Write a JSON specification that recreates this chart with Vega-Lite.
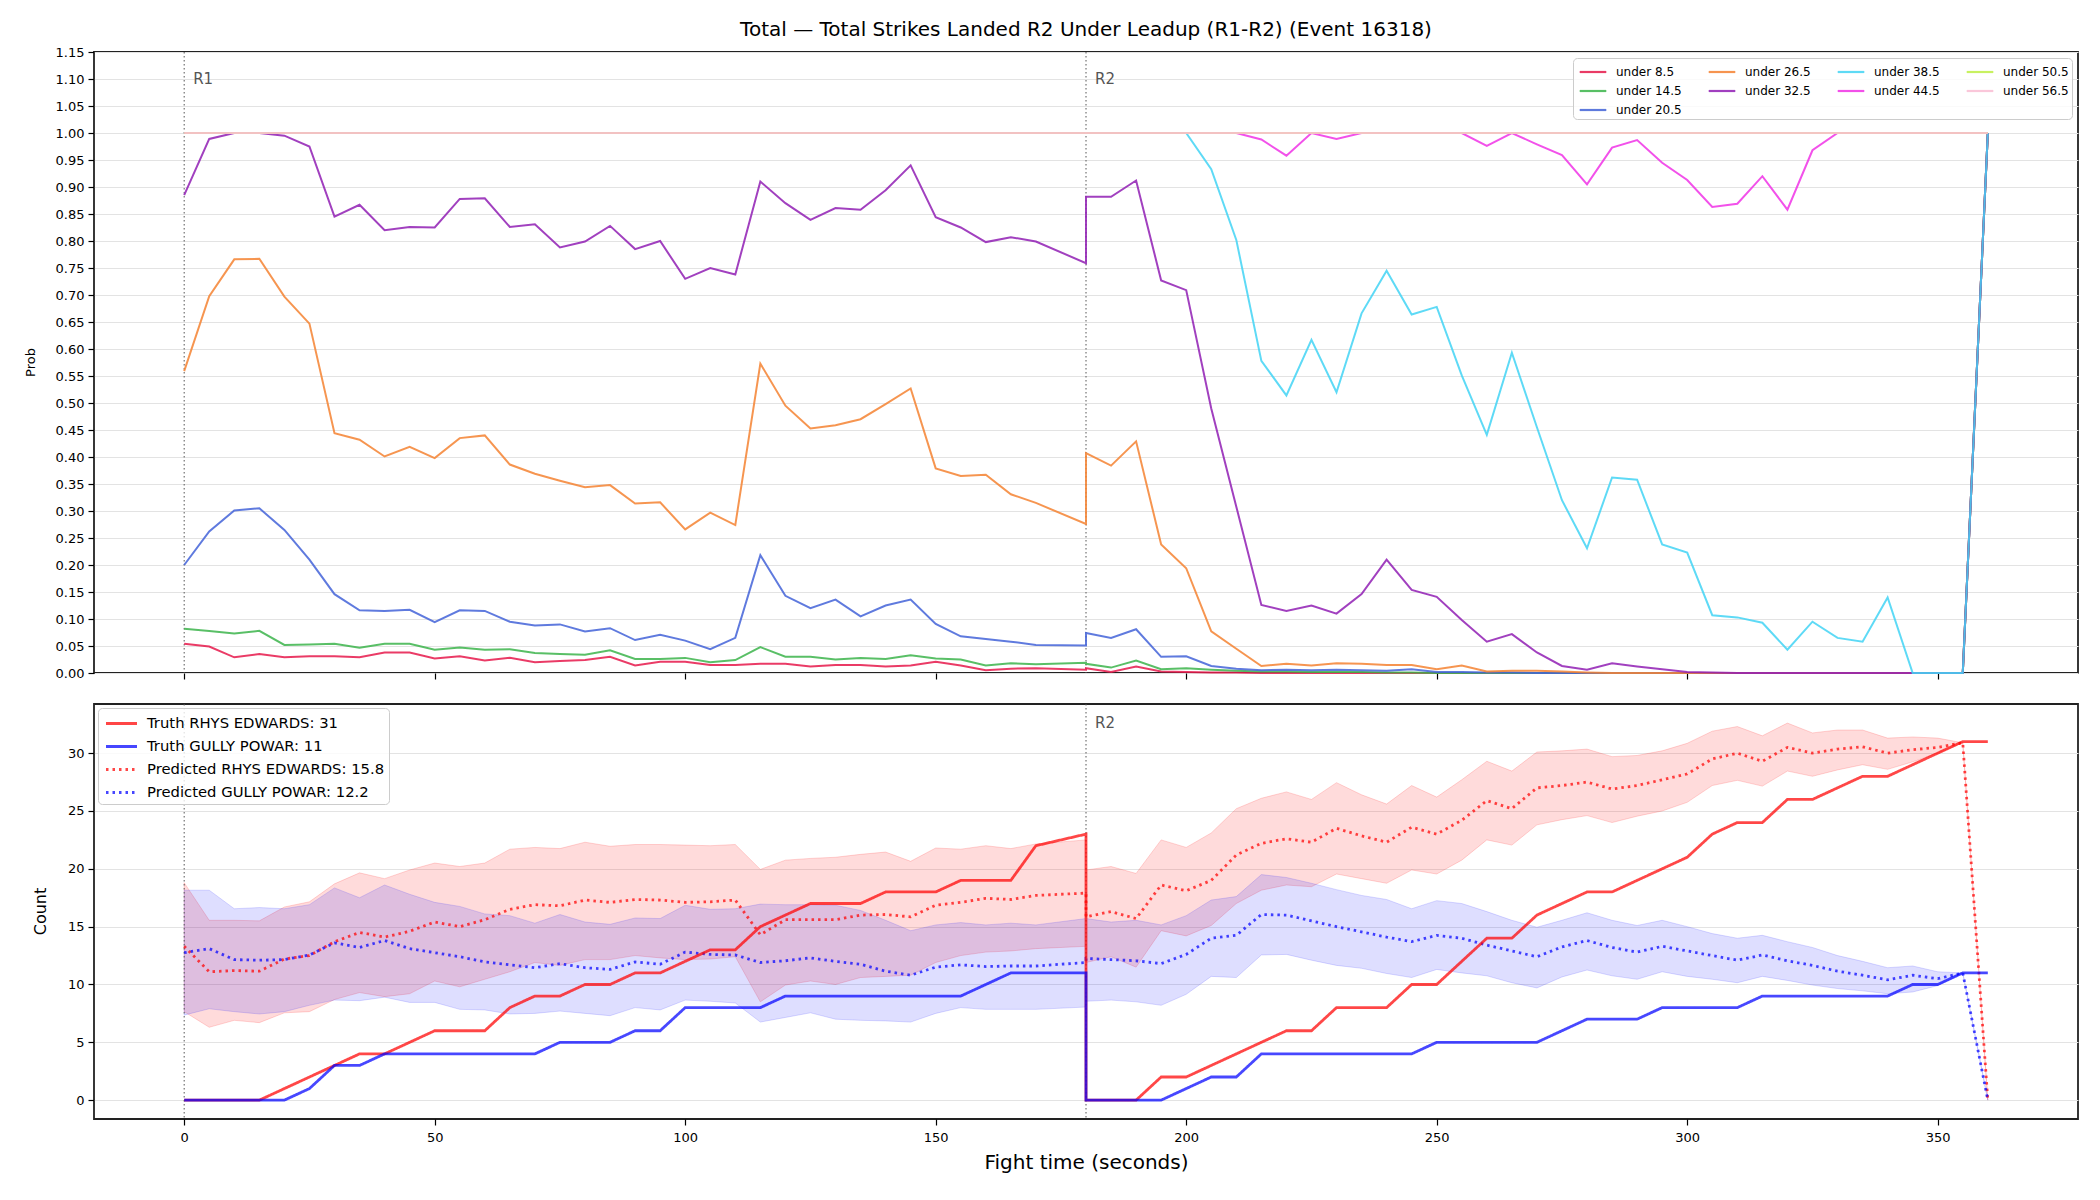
{
  "$schema": "https://vega.github.io/schema/vega-lite/v6.json",
  "background": "white",
  "padding": {"left": 23, "top": 19, "right": 20, "bottom": 10},
  "spacing": 21,
  "config": {
    "font": "DejaVu Sans",
    "view": {"stroke": "#222222", "strokeWidth": 1.8},
    "axis": {
      "labelFont": "DejaVu Sans",
      "labelFontSize": 13,
      "labelColor": "#000000",
      "labelFlush": false,
      "labelOverlap": false,
      "labelPadding": 4,
      "tickColor": "#000000",
      "tickSize": 6,
      "tickWidth": 1.2,
      "domain": false,
      "titleFont": "DejaVu Sans",
      "titleFontWeight": "normal",
      "titleColor": "#000000",
      "gridColor": "#e3e3e3",
      "gridWidth": 1
    },
    "legend": {"labelFont": "DejaVu Sans", "labelColor": "#000000", "labelLimit": 400}
  },
  "resolve": {
    "scale": {"color": "independent", "strokeDash": "independent", "opacity": "independent", "strokeWidth": "independent", "y": "independent"}
  },
  "datasets": {
    "rounds": [{"t": 0, "r": "R1"}, {"t": 180, "r": "R2"}],
    "probNames": [
      {"key": "a", "label": "under 8.5"},
      {"key": "b", "label": "under 14.5"},
      {"key": "c", "label": "under 20.5"},
      {"key": "d", "label": "under 26.5"},
      {"key": "e", "label": "under 32.5"},
      {"key": "f", "label": "under 38.5"},
      {"key": "g", "label": "under 44.5"},
      {"key": "h", "label": "under 50.5"},
      {"key": "i", "label": "under 56.5"}
    ],
    "countNames": [
      {"key": "tr", "label": "Truth RHYS EDWARDS: 31"},
      {"key": "tg", "label": "Truth GULLY POWAR: 11"},
      {"key": "pr", "label": "Predicted RHYS EDWARDS: 15.8"},
      {"key": "pg", "label": "Predicted GULLY POWAR: 12.2"}
    ],
    "probs": [
      {"t": 0, "n": 0, "a": 0.054, "b": 0.082, "c": 0.2, "d": 0.559, "e": 0.885, "f": 1, "g": 1, "h": 1, "i": 1},
      {"t": 5, "n": 1, "a": 0.049, "b": 0.078, "c": 0.262, "d": 0.698, "e": 0.989, "f": 1, "g": 1, "h": 1, "i": 1},
      {"t": 10, "n": 2, "a": 0.029, "b": 0.073, "c": 0.301, "d": 0.766, "e": 1, "f": 1, "g": 1, "h": 1, "i": 1},
      {"t": 15, "n": 3, "a": 0.035, "b": 0.078, "c": 0.305, "d": 0.767, "e": 1, "f": 1, "g": 1, "h": 1, "i": 1},
      {"t": 20, "n": 4, "a": 0.029, "b": 0.052, "c": 0.265, "d": 0.697, "e": 0.995, "f": 1, "g": 1, "h": 1, "i": 1},
      {"t": 25, "n": 5, "a": 0.031, "b": 0.053, "c": 0.21, "d": 0.647, "e": 0.975, "f": 1, "g": 1, "h": 1, "i": 1},
      {"t": 30, "n": 6, "a": 0.031, "b": 0.054, "c": 0.146, "d": 0.444, "e": 0.845, "f": 1, "g": 1, "h": 1, "i": 1},
      {"t": 35, "n": 7, "a": 0.029, "b": 0.047, "c": 0.116, "d": 0.432, "e": 0.867, "f": 1, "g": 1, "h": 1, "i": 1},
      {"t": 40, "n": 8, "a": 0.038, "b": 0.054, "c": 0.115, "d": 0.401, "e": 0.82, "f": 1, "g": 1, "h": 1, "i": 1},
      {"t": 45, "n": 9, "a": 0.038, "b": 0.054, "c": 0.117, "d": 0.419, "e": 0.826, "f": 1, "g": 1, "h": 1, "i": 1},
      {"t": 50, "n": 10, "a": 0.027, "b": 0.043, "c": 0.094, "d": 0.398, "e": 0.825, "f": 1, "g": 1, "h": 1, "i": 1},
      {"t": 55, "n": 11, "a": 0.031, "b": 0.047, "c": 0.116, "d": 0.435, "e": 0.878, "f": 1, "g": 1, "h": 1, "i": 1},
      {"t": 60, "n": 12, "a": 0.023, "b": 0.043, "c": 0.115, "d": 0.44, "e": 0.879, "f": 1, "g": 1, "h": 1, "i": 1},
      {"t": 65, "n": 13, "a": 0.028, "b": 0.044, "c": 0.095, "d": 0.386, "e": 0.826, "f": 1, "g": 1, "h": 1, "i": 1},
      {"t": 70, "n": 14, "a": 0.02, "b": 0.037, "c": 0.088, "d": 0.369, "e": 0.831, "f": 1, "g": 1, "h": 1, "i": 1},
      {"t": 75, "n": 15, "a": 0.022, "b": 0.035, "c": 0.09, "d": 0.356, "e": 0.788, "f": 1, "g": 1, "h": 1, "i": 1},
      {"t": 80, "n": 16, "a": 0.024, "b": 0.034, "c": 0.077, "d": 0.344, "e": 0.799, "f": 1, "g": 1, "h": 1, "i": 1},
      {"t": 85, "n": 17, "a": 0.03, "b": 0.042, "c": 0.083, "d": 0.348, "e": 0.828, "f": 1, "g": 1, "h": 1, "i": 1},
      {"t": 90, "n": 18, "a": 0.014, "b": 0.026, "c": 0.061, "d": 0.314, "e": 0.785, "f": 1, "g": 1, "h": 1, "i": 1},
      {"t": 95, "n": 19, "a": 0.021, "b": 0.026, "c": 0.071, "d": 0.316, "e": 0.8, "f": 1, "g": 1, "h": 1, "i": 1},
      {"t": 100, "n": 20, "a": 0.021, "b": 0.028, "c": 0.06, "d": 0.266, "e": 0.73, "f": 1, "g": 1, "h": 1, "i": 1},
      {"t": 105, "n": 21, "a": 0.015, "b": 0.02, "c": 0.044, "d": 0.297, "e": 0.75, "f": 1, "g": 1, "h": 1, "i": 1},
      {"t": 110, "n": 22, "a": 0.015, "b": 0.024, "c": 0.065, "d": 0.274, "e": 0.738, "f": 1, "g": 1, "h": 1, "i": 1},
      {"t": 115, "n": 23, "a": 0.017, "b": 0.048, "c": 0.218, "d": 0.573, "e": 0.91, "f": 1, "g": 1, "h": 1, "i": 1},
      {"t": 120, "n": 24, "a": 0.017, "b": 0.03, "c": 0.143, "d": 0.495, "e": 0.87, "f": 1, "g": 1, "h": 1, "i": 1},
      {"t": 125, "n": 25, "a": 0.012, "b": 0.03, "c": 0.12, "d": 0.453, "e": 0.839, "f": 1, "g": 1, "h": 1, "i": 1},
      {"t": 130, "n": 26, "a": 0.015, "b": 0.025, "c": 0.136, "d": 0.459, "e": 0.861, "f": 1, "g": 1, "h": 1, "i": 1},
      {"t": 135, "n": 27, "a": 0.015, "b": 0.028, "c": 0.105, "d": 0.47, "e": 0.858, "f": 1, "g": 1, "h": 1, "i": 1},
      {"t": 140, "n": 28, "a": 0.012, "b": 0.026, "c": 0.125, "d": 0.498, "e": 0.894, "f": 1, "g": 1, "h": 1, "i": 1},
      {"t": 145, "n": 29, "a": 0.014, "b": 0.033, "c": 0.136, "d": 0.527, "e": 0.94, "f": 1, "g": 1, "h": 1, "i": 1},
      {"t": 150, "n": 30, "a": 0.021, "b": 0.027, "c": 0.091, "d": 0.379, "e": 0.844, "f": 1, "g": 1, "h": 1, "i": 1},
      {"t": 155, "n": 31, "a": 0.014, "b": 0.025, "c": 0.068, "d": 0.365, "e": 0.825, "f": 1, "g": 1, "h": 1, "i": 1},
      {"t": 160, "n": 32, "a": 0.005, "b": 0.014, "c": 0.063, "d": 0.367, "e": 0.798, "f": 1, "g": 1, "h": 1, "i": 1},
      {"t": 165, "n": 33, "a": 0.008, "b": 0.018, "c": 0.058, "d": 0.331, "e": 0.807, "f": 1, "g": 1, "h": 1, "i": 1},
      {"t": 170, "n": 34, "a": 0.009, "b": 0.016, "c": 0.052, "d": 0.315, "e": 0.799, "f": 1, "g": 1, "h": 1, "i": 1},
      {"t": 180, "n": 35, "a": 0.006, "b": 0.019, "c": 0.051, "d": 0.276, "e": 0.759, "f": 1, "g": 1, "h": 1, "i": 1},
      {"t": 180, "n": 36, "a": 0.009, "b": 0.017, "c": 0.074, "d": 0.407, "e": 0.882, "f": 1, "g": 1, "h": 1, "i": 1},
      {"t": 185, "n": 37, "a": 0.002, "b": 0.01, "c": 0.065, "d": 0.384, "e": 0.882, "f": 1, "g": 1, "h": 1, "i": 1},
      {"t": 190, "n": 38, "a": 0.012, "b": 0.023, "c": 0.081, "d": 0.429, "e": 0.912, "f": 1, "g": 1, "h": 1, "i": 1},
      {"t": 195, "n": 39, "a": 0.003, "b": 0.007, "c": 0.03, "d": 0.238, "e": 0.727, "f": 1, "g": 1, "h": 1, "i": 1},
      {"t": 200, "n": 40, "a": 0.002, "b": 0.009, "c": 0.031, "d": 0.194, "e": 0.709, "f": 1, "g": 1, "h": 1, "i": 1},
      {"t": 205, "n": 41, "a": 0.001, "b": 0.006, "c": 0.013, "d": 0.077, "e": 0.49, "f": 0.933, "g": 1, "h": 1, "i": 1},
      {"t": 210, "n": 42, "a": 0.001, "b": 0.004, "c": 0.008, "d": 0.045, "e": 0.308, "f": 0.802, "g": 1, "h": 1, "i": 1},
      {"t": 215, "n": 43, "a": 0, "b": 0.003, "c": 0.005, "d": 0.013, "e": 0.126, "f": 0.578, "g": 0.988, "h": 1, "i": 1},
      {"t": 220, "n": 44, "a": 0, "b": 0.003, "c": 0.006, "d": 0.017, "e": 0.115, "f": 0.514, "g": 0.958, "h": 1, "i": 1},
      {"t": 225, "n": 45, "a": 0, "b": 0.002, "c": 0.005, "d": 0.014, "e": 0.125, "f": 0.617, "g": 1, "h": 1, "i": 1},
      {"t": 230, "n": 46, "a": 0, "b": 0.002, "c": 0.006, "d": 0.018, "e": 0.11, "f": 0.52, "g": 0.989, "h": 1, "i": 1},
      {"t": 235, "n": 47, "a": 0, "b": 0.002, "c": 0.005, "d": 0.017, "e": 0.146, "f": 0.666, "g": 1, "h": 1, "i": 1},
      {"t": 240, "n": 48, "a": 0, "b": 0.001, "c": 0.004, "d": 0.015, "e": 0.21, "f": 0.745, "g": 1, "h": 1, "i": 1},
      {"t": 245, "n": 49, "a": 0, "b": 0.001, "c": 0.007, "d": 0.015, "e": 0.154, "f": 0.664, "g": 1, "h": 1, "i": 1},
      {"t": 250, "n": 50, "a": 0, "b": 0, "c": 0.002, "d": 0.007, "e": 0.141, "f": 0.678, "g": 1, "h": 1, "i": 1},
      {"t": 255, "n": 51, "a": 0, "b": 0, "c": 0.002, "d": 0.014, "e": 0.098, "f": 0.551, "g": 1, "h": 1, "i": 1},
      {"t": 260, "n": 52, "a": 0, "b": 0, "c": 0.001, "d": 0.003, "e": 0.058, "f": 0.441, "g": 0.976, "h": 1, "i": 1},
      {"t": 265, "n": 53, "a": 0, "b": 0, "c": 0.001, "d": 0.004, "e": 0.072, "f": 0.593, "g": 1, "h": 1, "i": 1},
      {"t": 270, "n": 54, "a": 0, "b": 0, "c": 0, "d": 0.004, "e": 0.038, "f": 0.455, "g": 0.979, "h": 1, "i": 1},
      {"t": 275, "n": 55, "a": 0, "b": 0, "c": 0, "d": 0.003, "e": 0.013, "f": 0.32, "g": 0.959, "h": 1, "i": 1},
      {"t": 280, "n": 56, "a": 0, "b": 0, "c": 0, "d": 0.001, "e": 0.006, "f": 0.231, "g": 0.905, "h": 1, "i": 1},
      {"t": 285, "n": 57, "a": 0, "b": 0, "c": 0, "d": 0, "e": 0.018, "f": 0.362, "g": 0.973, "h": 1, "i": 1},
      {"t": 290, "n": 58, "a": 0, "b": 0, "c": 0, "d": 0, "e": 0.012, "f": 0.358, "g": 0.987, "h": 1, "i": 1},
      {"t": 295, "n": 59, "a": 0, "b": 0, "c": 0, "d": 0, "e": 0.007, "f": 0.238, "g": 0.945, "h": 1, "i": 1},
      {"t": 300, "n": 60, "a": 0, "b": 0, "c": 0, "d": 0, "e": 0.002, "f": 0.223, "g": 0.913, "h": 1, "i": 1},
      {"t": 305, "n": 61, "a": 0, "b": 0, "c": 0, "d": 0, "e": 0.001, "f": 0.107, "g": 0.863, "h": 1, "i": 1},
      {"t": 310, "n": 62, "a": 0, "b": 0, "c": 0, "d": 0, "e": 0, "f": 0.103, "g": 0.869, "h": 1, "i": 1},
      {"t": 315, "n": 63, "a": 0, "b": 0, "c": 0, "d": 0, "e": 0, "f": 0.093, "g": 0.92, "h": 1, "i": 1},
      {"t": 320, "n": 64, "a": 0, "b": 0, "c": 0, "d": 0, "e": 0, "f": 0.043, "g": 0.858, "h": 1, "i": 1},
      {"t": 325, "n": 65, "a": 0, "b": 0, "c": 0, "d": 0, "e": 0, "f": 0.095, "g": 0.968, "h": 1, "i": 1},
      {"t": 330, "n": 66, "a": 0, "b": 0, "c": 0, "d": 0, "e": 0, "f": 0.065, "g": 1, "h": 1, "i": 1},
      {"t": 335, "n": 67, "a": 0, "b": 0, "c": 0, "d": 0, "e": 0, "f": 0.058, "g": 1, "h": 1, "i": 1},
      {"t": 340, "n": 68, "a": 0, "b": 0, "c": 0, "d": 0, "e": 0, "f": 0.14, "g": 1, "h": 1, "i": 1},
      {"t": 345, "n": 69, "a": 0, "b": 0, "c": 0, "d": 0, "e": 0, "f": 0, "g": 1, "h": 1, "i": 1},
      {"t": 350, "n": 70, "a": 0, "b": 0, "c": 0, "d": 0, "e": 0, "f": 0, "g": 1, "h": 1, "i": 1},
      {"t": 355, "n": 71, "a": 0, "b": 0, "c": 0, "d": 0, "e": 0, "f": 0, "g": 1, "h": 1, "i": 1},
      {"t": 360, "n": 72, "a": 1, "b": 1, "c": 1, "d": 1, "e": 1, "f": 1, "g": 1, "h": 1, "i": 1}
    ],
    "counts": [
      {"t": 0, "n": 0, "tr": 0, "tg": 0, "pr": 13.3, "pg": 12.75, "rlo": 7.65, "rhi": 18.8, "glo": 7.35, "ghi": 18.15},
      {"t": 5, "n": 1, "tr": 0, "tg": 0, "pr": 11.1, "pg": 13.1, "rlo": 6.3, "rhi": 15.55, "glo": 7.9, "ghi": 18.15},
      {"t": 10, "n": 2, "tr": 0, "tg": 0, "pr": 11.2, "pg": 12.15, "rlo": 6.9, "rhi": 15.55, "glo": 7.65, "ghi": 16.55},
      {"t": 15, "n": 3, "tr": 0, "tg": 0, "pr": 11.15, "pg": 12.1, "rlo": 6.7, "rhi": 15.5, "glo": 7.45, "ghi": 16.65},
      {"t": 20, "n": 4, "tr": 1, "tg": 0, "pr": 12.2, "pg": 12.15, "rlo": 7.55, "rhi": 16.7, "glo": 7.65, "ghi": 16.55},
      {"t": 25, "n": 5, "tr": 2, "tg": 1, "pr": 12.5, "pg": 12.55, "rlo": 7.65, "rhi": 17.15, "glo": 8.2, "ghi": 16.9},
      {"t": 30, "n": 6, "tr": 3, "tg": 3, "pr": 13.7, "pg": 13.6, "rlo": 8.7, "rhi": 18.7, "glo": 8.65, "ghi": 18.35},
      {"t": 35, "n": 7, "tr": 4, "tg": 3, "pr": 14.5, "pg": 13.2, "rlo": 9.3, "rhi": 19.65, "glo": 8.6, "ghi": 17.5},
      {"t": 40, "n": 8, "tr": 4, "tg": 4, "pr": 14.1, "pg": 13.8, "rlo": 8.95, "rhi": 19.15, "glo": 8.9, "ghi": 18.6},
      {"t": 45, "n": 9, "tr": 5, "tg": 4, "pr": 14.6, "pg": 13.1, "rlo": 9.2, "rhi": 19.9, "glo": 8.45, "ghi": 17.8},
      {"t": 50, "n": 10, "tr": 6, "tg": 4, "pr": 15.4, "pg": 12.75, "rlo": 10.3, "rhi": 20.5, "glo": 8.45, "ghi": 17.1},
      {"t": 55, "n": 11, "tr": 6, "tg": 4, "pr": 15.0, "pg": 12.4, "rlo": 9.8, "rhi": 20.2, "glo": 7.85, "ghi": 16.75},
      {"t": 60, "n": 12, "tr": 6, "tg": 4, "pr": 15.6, "pg": 11.95, "rlo": 10.45, "rhi": 20.5, "glo": 7.8, "ghi": 16.1},
      {"t": 65, "n": 13, "tr": 8, "tg": 4, "pr": 16.5, "pg": 11.7, "rlo": 11.1, "rhi": 21.7, "glo": 7.45, "ghi": 15.95},
      {"t": 70, "n": 14, "tr": 9, "tg": 4, "pr": 16.9, "pg": 11.45, "rlo": 11.9, "rhi": 21.85, "glo": 7.5, "ghi": 15.3},
      {"t": 75, "n": 15, "tr": 9, "tg": 5, "pr": 16.8, "pg": 11.8, "rlo": 11.65, "rhi": 21.75, "glo": 7.7, "ghi": 16.05},
      {"t": 80, "n": 16, "tr": 10, "tg": 5, "pr": 17.3, "pg": 11.45, "rlo": 12.15, "rhi": 22.3, "glo": 7.5, "ghi": 15.4},
      {"t": 85, "n": 17, "tr": 10, "tg": 5, "pr": 17.1, "pg": 11.3, "rlo": 12.15, "rhi": 21.95, "glo": 7.3, "ghi": 15.2},
      {"t": 90, "n": 18, "tr": 11, "tg": 6, "pr": 17.35, "pg": 11.95, "rlo": 12.5, "rhi": 22.1, "glo": 8.0, "ghi": 15.75},
      {"t": 95, "n": 19, "tr": 11, "tg": 6, "pr": 17.3, "pg": 11.75, "rlo": 12.3, "rhi": 22.1, "glo": 7.8, "ghi": 15.7},
      {"t": 100, "n": 20, "tr": 12, "tg": 8, "pr": 17.1, "pg": 12.8, "rlo": 12.15, "rhi": 22.05, "glo": 8.65, "ghi": 16.85},
      {"t": 105, "n": 21, "tr": 13, "tg": 8, "pr": 17.15, "pg": 12.6, "rlo": 12.2, "rhi": 22.0, "glo": 8.55, "ghi": 16.5},
      {"t": 110, "n": 22, "tr": 13, "tg": 8, "pr": 17.3, "pg": 12.55, "rlo": 12.4, "rhi": 22.1, "glo": 8.4, "ghi": 16.55},
      {"t": 115, "n": 23, "tr": 15, "tg": 8, "pr": 14.3, "pg": 11.9, "rlo": 8.5, "rhi": 19.95, "glo": 6.75, "ghi": 16.95},
      {"t": 120, "n": 24, "tr": 16, "tg": 9, "pr": 15.6, "pg": 12.05, "rlo": 9.95, "rhi": 20.75, "glo": 7.15, "ghi": 16.9},
      {"t": 125, "n": 25, "tr": 17, "tg": 9, "pr": 15.6, "pg": 12.3, "rlo": 10.3, "rhi": 20.9, "glo": 7.55, "ghi": 16.9},
      {"t": 130, "n": 26, "tr": 17, "tg": 9, "pr": 15.6, "pg": 12.0, "rlo": 10.0, "rhi": 21.0, "glo": 7.0, "ghi": 16.85},
      {"t": 135, "n": 27, "tr": 17, "tg": 9, "pr": 16.0, "pg": 11.75, "rlo": 10.6, "rhi": 21.25, "glo": 6.9, "ghi": 16.4},
      {"t": 140, "n": 28, "tr": 18, "tg": 9, "pr": 16.05, "pg": 11.15, "rlo": 10.7, "rhi": 21.45, "glo": 6.85, "ghi": 15.55},
      {"t": 145, "n": 29, "tr": 18, "tg": 9, "pr": 15.85, "pg": 10.8, "rlo": 10.8, "rhi": 20.65, "glo": 6.75, "ghi": 14.65},
      {"t": 150, "n": 30, "tr": 18, "tg": 9, "pr": 16.85, "pg": 11.5, "rlo": 11.9, "rhi": 21.8, "glo": 7.5, "ghi": 15.15},
      {"t": 155, "n": 31, "tr": 19, "tg": 9, "pr": 17.1, "pg": 11.7, "rlo": 12.5, "rhi": 21.7, "glo": 8.0, "ghi": 15.35},
      {"t": 160, "n": 32, "tr": 19, "tg": 10, "pr": 17.45, "pg": 11.55, "rlo": 12.8, "rhi": 22.0, "glo": 7.85, "ghi": 15.15},
      {"t": 165, "n": 33, "tr": 19, "tg": 11, "pr": 17.35, "pg": 11.6, "rlo": 12.9, "rhi": 21.75, "glo": 7.85, "ghi": 15.3},
      {"t": 170, "n": 34, "tr": 22, "tg": 11, "pr": 17.7, "pg": 11.6, "rlo": 13.1, "rhi": 22.15, "glo": 7.85, "ghi": 15.15},
      {"t": 180, "n": 35, "tr": 23, "tg": 11, "pr": 17.9, "pg": 11.9, "rlo": 13.3, "rhi": 22.5, "glo": 8.05, "ghi": 15.7},
      {"t": 180, "n": 36, "tr": 0, "tg": 0, "pr": 15.85, "pg": 12.25, "rlo": 11.9, "rhi": 19.9, "glo": 8.55, "ghi": 15.7},
      {"t": 185, "n": 37, "tr": 0, "tg": 0, "pr": 16.3, "pg": 12.15, "rlo": 12.4, "rhi": 20.2, "glo": 8.65, "ghi": 15.4},
      {"t": 190, "n": 38, "tr": 0, "tg": 0, "pr": 15.7, "pg": 12.05, "rlo": 11.5, "rhi": 19.6, "glo": 8.5, "ghi": 15.55},
      {"t": 195, "n": 39, "tr": 2, "tg": 0, "pr": 18.6, "pg": 11.8, "rlo": 14.65, "rhi": 22.5, "glo": 8.2, "ghi": 15.15},
      {"t": 200, "n": 40, "tr": 2, "tg": 1, "pr": 18.1, "pg": 12.6, "rlo": 14.2, "rhi": 21.85, "glo": 9.15, "ghi": 15.95},
      {"t": 205, "n": 41, "tr": 3, "tg": 2, "pr": 19.0, "pg": 14.0, "rlo": 15.1, "rhi": 23.1, "glo": 10.7, "ghi": 17.3},
      {"t": 210, "n": 42, "tr": 4, "tg": 2, "pr": 21.2, "pg": 14.25, "rlo": 17.0, "rhi": 25.2, "glo": 10.6, "ghi": 17.6},
      {"t": 215, "n": 43, "tr": 5, "tg": 4, "pr": 22.2, "pg": 16.05, "rlo": 18.15, "rhi": 26.1, "glo": 12.55, "ghi": 19.5},
      {"t": 220, "n": 44, "tr": 6, "tg": 4, "pr": 22.6, "pg": 16.0, "rlo": 18.6, "rhi": 26.65, "glo": 12.6, "ghi": 19.25},
      {"t": 225, "n": 45, "tr": 6, "tg": 4, "pr": 22.3, "pg": 15.5, "rlo": 18.45, "rhi": 26.0, "glo": 12.1, "ghi": 18.75},
      {"t": 230, "n": 46, "tr": 8, "tg": 4, "pr": 23.5, "pg": 15.0, "rlo": 19.55, "rhi": 27.45, "glo": 11.65, "ghi": 18.2},
      {"t": 235, "n": 47, "tr": 8, "tg": 4, "pr": 22.85, "pg": 14.55, "rlo": 19.15, "rhi": 26.4, "glo": 11.4, "ghi": 17.7},
      {"t": 240, "n": 48, "tr": 8, "tg": 4, "pr": 22.3, "pg": 14.1, "rlo": 18.75, "rhi": 25.6, "glo": 10.95, "ghi": 17.35},
      {"t": 245, "n": 49, "tr": 10, "tg": 4, "pr": 23.6, "pg": 13.7, "rlo": 19.9, "rhi": 27.2, "glo": 10.6, "ghi": 16.55},
      {"t": 250, "n": 50, "tr": 10, "tg": 5, "pr": 23.0, "pg": 14.25, "rlo": 19.55, "rhi": 26.2, "glo": 11.3, "ghi": 17.25},
      {"t": 255, "n": 51, "tr": 12, "tg": 5, "pr": 24.2, "pg": 14.0, "rlo": 20.75, "rhi": 27.7, "glo": 11.0, "ghi": 17.0},
      {"t": 260, "n": 52, "tr": 14, "tg": 5, "pr": 25.9, "pg": 13.4, "rlo": 22.5, "rhi": 29.3, "glo": 10.75, "ghi": 16.3},
      {"t": 265, "n": 53, "tr": 14, "tg": 5, "pr": 25.2, "pg": 12.9, "rlo": 22.05, "rhi": 28.45, "glo": 10.15, "ghi": 15.55},
      {"t": 270, "n": 54, "tr": 16, "tg": 5, "pr": 27.0, "pg": 12.4, "rlo": 23.8, "rhi": 30.1, "glo": 9.7, "ghi": 14.95},
      {"t": 275, "n": 55, "tr": 17, "tg": 6, "pr": 27.2, "pg": 13.25, "rlo": 24.25, "rhi": 30.2, "glo": 10.65, "ghi": 15.55},
      {"t": 280, "n": 56, "tr": 18, "tg": 7, "pr": 27.5, "pg": 13.8, "rlo": 24.6, "rhi": 30.35, "glo": 11.25, "ghi": 16.2},
      {"t": 285, "n": 57, "tr": 18, "tg": 7, "pr": 26.9, "pg": 13.2, "rlo": 24.0, "rhi": 29.7, "glo": 10.75, "ghi": 15.55},
      {"t": 290, "n": 58, "tr": 19, "tg": 7, "pr": 27.2, "pg": 12.8, "rlo": 24.55, "rhi": 29.8, "glo": 10.45, "ghi": 15.1},
      {"t": 295, "n": 59, "tr": 20, "tg": 8, "pr": 27.7, "pg": 13.3, "rlo": 25.0, "rhi": 30.2, "glo": 11.1, "ghi": 15.55},
      {"t": 300, "n": 60, "tr": 21, "tg": 8, "pr": 28.2, "pg": 12.9, "rlo": 25.75, "rhi": 30.85, "glo": 10.7, "ghi": 15.0},
      {"t": 305, "n": 61, "tr": 23, "tg": 8, "pr": 29.5, "pg": 12.5, "rlo": 27.2, "rhi": 31.9, "glo": 10.45, "ghi": 14.4},
      {"t": 310, "n": 62, "tr": 24, "tg": 8, "pr": 30.0, "pg": 12.1, "rlo": 27.65, "rhi": 32.3, "glo": 10.15, "ghi": 14.0},
      {"t": 315, "n": 63, "tr": 24, "tg": 9, "pr": 29.3, "pg": 12.55, "rlo": 27.15, "rhi": 31.5, "glo": 10.7, "ghi": 14.25},
      {"t": 320, "n": 64, "tr": 26, "tg": 9, "pr": 30.5, "pg": 12.05, "rlo": 28.45, "rhi": 32.6, "glo": 10.35, "ghi": 13.7},
      {"t": 325, "n": 65, "tr": 26, "tg": 9, "pr": 30.0, "pg": 11.65, "rlo": 28.0, "rhi": 31.75, "glo": 9.95, "ghi": 13.2},
      {"t": 330, "n": 66, "tr": 27, "tg": 9, "pr": 30.35, "pg": 11.15, "rlo": 28.55, "rhi": 32.0, "glo": 9.65, "ghi": 12.5},
      {"t": 335, "n": 67, "tr": 28, "tg": 9, "pr": 30.55, "pg": 10.8, "rlo": 29.0, "rhi": 32.0, "glo": 9.45, "ghi": 12.0},
      {"t": 340, "n": 68, "tr": 28, "tg": 9, "pr": 30.0, "pg": 10.4, "rlo": 28.6, "rhi": 31.3, "glo": 9.2, "ghi": 11.45},
      {"t": 345, "n": 69, "tr": 29, "tg": 10, "pr": 30.3, "pg": 10.8, "rlo": 29.25, "rhi": 31.4, "glo": 9.35, "ghi": 11.6},
      {"t": 350, "n": 70, "tr": 30, "tg": 10, "pr": 30.5, "pg": 10.5, "rlo": 30.0, "rhi": 31.3, "glo": 9.9, "ghi": 11.1},
      {"t": 355, "n": 71, "tr": 31, "tg": 11, "pr": 30.9, "pg": 11.0, "rlo": 30.9, "rhi": 30.9, "glo": 11.0, "ghi": 11.0},
      {"t": 360, "n": 72, "tr": 31, "tg": 11, "pr": 0, "pg": 0, "rlo": 0, "rhi": 0, "glo": 0, "ghi": 0}
    ]
  },
  "vconcat": [
    {
      "title": {
        "text": "Total — Total Strikes Landed R2 Under Leadup (R1-R2) (Event 16318)",
        "font": "DejaVu Sans",
        "fontSize": 20,
        "fontWeight": "normal",
        "color": "#000000",
        "anchor": "middle",
        "frame": "group",
        "baseline": "alphabetic",
        "offset": -10
      },
      "width": 1984,
      "height": 621,
      "encoding": {
        "x": {
          "field": "t",
          "type": "quantitative",
          "scale": {"domain": [-18, 378], "nice": false, "zero": false},
          "axis": {"values": [0, 50, 100, 150, 200, 250, 300, 350], "labels": false, "title": null, "grid": false}
        }
      },
      "layer": [
        {
          "data": {"name": "rounds"},
          "mark": {"type": "rule", "color": "#555555", "strokeWidth": 1, "strokeDash": [1.5, 2.5]},
          "encoding": {}
        },
        {
          "data": {"name": "probs"},
          "transform": [
            {"fold": ["a", "b", "c", "d", "e", "f", "g", "h", "i"], "as": ["key", "p"]},
            {"lookup": "key", "from": {"data": {"name": "probNames"}, "key": "key", "fields": ["label"]}}
          ],
          "mark": {"type": "line", "strokeWidth": 2, "opacity": 0.85},
          "encoding": {
            "y": {
              "field": "p",
              "type": "quantitative",
              "title": "Prob",
              "scale": {"domain": [0, 1.15], "nice": false, "zero": false},
              "axis": {
                "values": [0, 0.05, 0.1, 0.15, 0.2, 0.25, 0.3, 0.35, 0.4, 0.45, 0.5, 0.55, 0.6, 0.65, 0.7, 0.75, 0.8, 0.85, 0.9, 0.95, 1, 1.05, 1.1, 1.15],
                "format": ".2f",
                "labelOverlap": false,
                "titleFontSize": 13,
                "titleX": -64,
                "titleY": 310,
                "titleBaseline": "middle",
                "grid": true
              }
            },
            "order": {"field": "n", "type": "quantitative"},
            "color": {
              "field": "label",
              "type": "nominal",
              "scale": {
                "domain": ["under 8.5", "under 26.5", "under 38.5", "under 50.5", "under 14.5", "under 32.5", "under 44.5", "under 56.5", "under 20.5"],
                "range": ["#e6194b", "#f58231", "#42d4f4", "#bfef45", "#3cb44b", "#911eb4", "#f032e6", "#fabed4", "#4363d8"]
              },
              "legend": {
                "title": null,
                "orient": "top-right",
                "offset": 6,
                "direction": "horizontal",
                "columns": 4,
                "symbolType": "M-1.4,0L1.4,0",
                "symbolStrokeWidth": 2.2,
                "symbolSize": 361,
                "symbolOffset": 6,
                "symbolOpacity": 0.85,
                "labelFontSize": 12,
                "labelOffset": 12,
                "columnPadding": 22,
                "rowPadding": 2,
                "padding": 3,
                "fillColor": "rgba(255,255,255,0.8)",
                "strokeColor": "#cccccc",
                "cornerRadius": 4
              }
            }
          }
        },
        {
          "data": {"name": "rounds"},
          "mark": {"type": "text", "align": "left", "baseline": "middle", "dx": 9, "fontSize": 15, "color": "#555555", "font": "DejaVu Sans"},
          "encoding": {
            "y": {
              "datum": 1.1,
              "type": "quantitative",
              "title": "Prob",
              "scale": {"domain": [0, 1.15], "nice": false, "zero": false},
              "axis": {
                "values": [0, 0.05, 0.1, 0.15, 0.2, 0.25, 0.3, 0.35, 0.4, 0.45, 0.5, 0.55, 0.6, 0.65, 0.7, 0.75, 0.8, 0.85, 0.9, 0.95, 1, 1.05, 1.1, 1.15],
                "format": ".2f",
                "labelOverlap": false,
                "titleFontSize": 13,
                "titleX": -64,
                "titleY": 310,
                "titleBaseline": "middle",
                "grid": true
              }
            },
            "text": {"field": "r"}
          }
        }
      ]
    },
    {
      "width": 1984,
      "height": 415,
      "encoding": {
        "x": {
          "field": "t",
          "type": "quantitative",
          "scale": {"domain": [-18, 378], "nice": false, "zero": false},
          "axis": {"values": [0, 50, 100, 150, 200, 250, 300, 350], "title": "Fight time (seconds)", "titleFontSize": 20, "titlePadding": 8, "labelPadding": 6, "grid": false}
        }
      },
      "layer": [
        {
          "data": {"name": "counts"},
          "mark": {"type": "area", "color": "#ff0000", "fillOpacity": 0.14, "stroke": "#ff0000", "strokeOpacity": 0.16, "strokeWidth": 1},
          "encoding": {
            "y": {
              "field": "rlo",
              "type": "quantitative",
              "title": "Count",
              "scale": {"domain": [-1.63, 34.25], "nice": false, "zero": false},
              "axis": {"values": [0, 5, 10, 15, 20, 25, 30], "titleFontSize": 16, "titleX": -54, "titleY": 207, "titleBaseline": "middle", "grid": true}
            },
            "y2": {"field": "rhi"}
          }
        },
        {
          "data": {"name": "counts"},
          "mark": {"type": "area", "color": "#0000ff", "fillOpacity": 0.13, "stroke": "#0000ff", "strokeOpacity": 0.14, "strokeWidth": 1},
          "encoding": {
            "y": {
              "field": "glo",
              "type": "quantitative",
              "title": "Count",
              "scale": {"domain": [-1.63, 34.25], "nice": false, "zero": false},
              "axis": {"values": [0, 5, 10, 15, 20, 25, 30], "titleFontSize": 16, "titleX": -54, "titleY": 207, "titleBaseline": "middle", "grid": true}
            },
            "y2": {"field": "ghi"}
          }
        },
        {
          "data": {"name": "rounds"},
          "mark": {"type": "rule", "color": "#555555", "strokeWidth": 1, "strokeDash": [1.5, 2.5]},
          "encoding": {}
        },
        {
          "data": {"name": "counts"},
          "transform": [
            {"fold": ["pr", "pg", "tr", "tg"], "as": ["key", "v"]},
            {"lookup": "key", "from": {"data": {"name": "countNames"}, "key": "key", "fields": ["label"]}}
          ],
          "mark": {"type": "line"},
          "encoding": {
            "y": {
              "field": "v",
              "type": "quantitative",
              "title": "Count",
              "scale": {"domain": [-1.63, 34.25], "nice": false, "zero": false},
              "axis": {"values": [0, 5, 10, 15, 20, 25, 30], "titleFontSize": 16, "titleX": -54, "titleY": 207, "titleBaseline": "middle", "grid": true}
            },
            "order": {"field": "n", "type": "quantitative"},
            "color": {
              "field": "label",
              "type": "nominal",
              "scale": {
                "domain": ["Truth RHYS EDWARDS: 31", "Truth GULLY POWAR: 11", "Predicted RHYS EDWARDS: 15.8", "Predicted GULLY POWAR: 12.2"],
                "range": ["#ff0000", "#0000ff", "#ff0000", "#0000ff"]
              },
              "legend": {
                "title": null,
                "orient": "top-left",
                "offset": 4,
                "symbolType": "M-1.55,0L1.55,0",
                "symbolSize": 400,
                "symbolOffset": 8,
                "labelFontSize": 14.8,
                "labelOffset": 14,
                "rowPadding": 4,
                "padding": 4,
                "fillColor": "rgba(255,255,255,0.8)",
                "strokeColor": "#cccccc",
                "cornerRadius": 4
              }
            },
            "strokeDash": {
              "field": "label",
              "type": "nominal",
              "scale": {
                "domain": ["Truth RHYS EDWARDS: 31", "Truth GULLY POWAR: 11", "Predicted RHYS EDWARDS: 15.8", "Predicted GULLY POWAR: 12.2"],
                "range": [[1, 0], [1, 0], [2.5, 4], [2.5, 4]]
              }
            },
            "opacity": {
              "field": "label",
              "type": "nominal",
              "scale": {
                "domain": ["Truth RHYS EDWARDS: 31", "Truth GULLY POWAR: 11", "Predicted RHYS EDWARDS: 15.8", "Predicted GULLY POWAR: 12.2"],
                "range": [0.72, 0.72, 0.6, 0.6]
              }
            },
            "strokeWidth": {
              "field": "label",
              "type": "nominal",
              "scale": {
                "domain": ["Truth RHYS EDWARDS: 31", "Truth GULLY POWAR: 11", "Predicted RHYS EDWARDS: 15.8", "Predicted GULLY POWAR: 12.2"],
                "range": [2.8, 2.8, 2.6, 2.6]
              }
            }
          }
        },
        {
          "data": {"name": "rounds"},
          "transform": [{"filter": "datum.r == 'R2'"}],
          "mark": {"type": "text", "align": "left", "baseline": "middle", "dx": 9, "fontSize": 15, "color": "#555555", "font": "DejaVu Sans"},
          "encoding": {
            "y": {
              "datum": 32.6,
              "type": "quantitative",
              "title": "Count",
              "scale": {"domain": [-1.63, 34.25], "nice": false, "zero": false},
              "axis": {"values": [0, 5, 10, 15, 20, 25, 30], "titleFontSize": 16, "titleX": -54, "titleY": 207, "titleBaseline": "middle", "grid": true}
            },
            "text": {"field": "r"}
          }
        }
      ]
    }
  ]
}
